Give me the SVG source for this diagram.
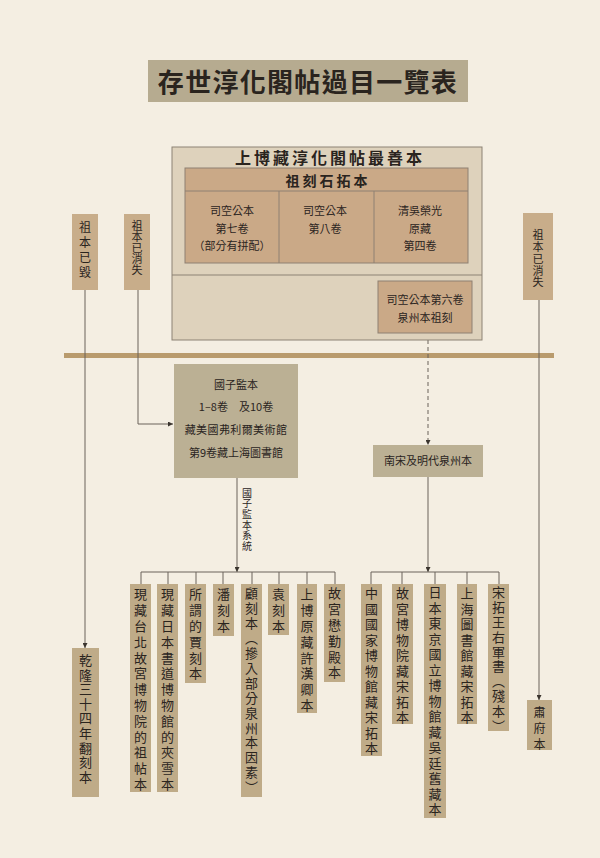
<svg xmlns="http://www.w3.org/2000/svg" width="600" height="858" viewBox="0 0 600 858">
<defs>
<style>
.t{font-family:"Noto Sans CJK TC","Noto Sans CJK SC",sans-serif;fill:#2a241e}
.v{writing-mode:vertical-rl;font-family:"Noto Sans CJK TC","Noto Sans CJK SC",sans-serif;fill:#2a241e}
.ln{stroke:#6a625a;stroke-width:1;fill:none}
.bot{fill:#bfab88}
.tag{fill:#c8ad8a}
.grey{fill:#bbb094}
.inner{fill:#caa987;stroke:#8e8072;stroke-width:1}
</style>
<marker id="ah" viewBox="0 0 6 6" refX="6" refY="3" markerWidth="5" markerHeight="5" orient="auto" markerUnits="userSpaceOnUse">
<path d="M0,0 L6,3 L0,6 Z" fill="#3a342e"/>
</marker>
</defs>
<rect width="600" height="858" fill="#f4eee2"/>

<g id="title">
<rect x="148" y="60" width="320" height="42" fill="#b6ab90"/>
<text class="t" x="308" y="92" font-size="26" font-weight="bold" letter-spacing="1.3" text-anchor="middle">存世淳化閣帖過目一覽表</text>
</g>

<g id="band">
<rect x="64" y="353" width="490" height="5" fill="#b99b6d"/>
</g>

<g id="connectors">
<line class="ln" x1="85" y1="290" x2="85" y2="648" marker-end="url(#ah)"/>
<polyline class="ln" points="138,290 138,424 173,424" marker-end="url(#ah)"/>
<line class="ln" x1="539" y1="300" x2="539" y2="700" marker-end="url(#ah)"/>
<line class="ln" x1="428" y1="333" x2="428" y2="445" stroke-dasharray="4,3" marker-end="url(#ah)"/>
<line class="ln" x1="237" y1="478" x2="237" y2="572" marker-end="url(#ah)"/>
<line class="ln" x1="428" y1="477" x2="428" y2="572" marker-end="url(#ah)"/>
<path class="ln" d="M141,584 V572 H335 V584 M168,572 V584 M196,572 V584 M223,572 V584 M252,572 V584 M279,572 V584 M307,572 V584"/>
<path class="ln" d="M371,584 V572 H499 V584 M402,572 V584 M435,572 V584 M467,572 V584"/>
</g>

<g id="main">
<rect x="172" y="147" width="310" height="193" fill="#ded2bc" stroke="#8c8274" stroke-width="1"/>
<line x1="172" y1="275" x2="482" y2="275" stroke="#8c8274" stroke-width="1"/>
<text class="t" x="330" y="164" font-size="16" font-weight="bold" letter-spacing="3" text-anchor="middle">上博藏淳化閣帖最善本</text>
</g>

<g id="zuke">
<rect class="inner" x="185" y="168" width="283" height="95"/>
<line x1="185" y1="191" x2="468" y2="191" stroke="#8e8072"/>
<line x1="279" y1="191" x2="279" y2="263" stroke="#8e8072"/>
<line x1="374" y1="191" x2="374" y2="263" stroke="#8e8072"/>
<text class="t" x="328" y="186" font-size="14" font-weight="bold" letter-spacing="3" text-anchor="middle">祖刻石拓本</text>
<text class="t" font-size="11" text-anchor="middle"><tspan x="232" y="215">司空公本</tspan><tspan x="232" y="233">第七卷</tspan><tspan x="232" y="250">（部分有拼配）</tspan></text>
<text class="t" font-size="11" text-anchor="middle"><tspan x="325" y="215">司空公本</tspan><tspan x="325" y="233">第八卷</tspan></text>
<text class="t" font-size="11" text-anchor="middle"><tspan x="420" y="215">清吳榮光</tspan><tspan x="420" y="233">原藏</tspan><tspan x="420" y="250">第四卷</tspan></text>
</g>

<g id="quanzhou-zu">
<rect class="inner" x="378" y="281" width="94" height="52"/>
<text class="t" font-size="11" text-anchor="middle"><tspan x="425" y="304">司空公本第六卷</tspan><tspan x="425" y="322">泉州本祖刻</tspan></text>
</g>

<g id="lost1">
<rect class="tag" x="72" y="214" width="26" height="76"/>
<text class="v" x="85" y="221" font-size="12" letter-spacing="3">祖本已毀</text>
</g>
<g id="lost2">
<rect class="tag" x="124" y="214" width="26" height="76"/>
<text class="v" x="137" y="220.5" font-size="11" letter-spacing="0">祖本已消失</text>
</g>
<g id="lost3">
<rect class="tag" x="523" y="213" width="30" height="87"/>
<text class="v" x="538" y="229.5" font-size="11" letter-spacing="0.8">祖本已消失</text>
</g>

<g id="guozijian">
<rect class="grey" x="174" y="364" width="124" height="114"/>
<text class="t" font-size="11" text-anchor="middle"><tspan x="236" y="389">國子監本</tspan><tspan x="236" y="411">1–8卷　及10卷</tspan><tspan x="236" y="434" letter-spacing="0.4">藏美國弗利爾美術館</tspan><tspan x="236" y="457">第9卷藏上海圖書館</tspan></text>
<text class="v" x="247" y="488" font-size="10" letter-spacing="0.6">國子監本系統</text>
</g>

<g id="nansong">
<rect class="grey" x="373" y="445" width="110" height="32"/>
<text class="t" x="428" y="465" font-size="11" text-anchor="middle">南宋及明代泉州本</text>
</g>

<g id="qianlong">
<rect class="bot" x="72" y="648" width="27" height="149"/>
<text class="v" x="85.5" y="653.5" font-size="13" letter-spacing="1.6">乾隆三十四年翻刻本</text>
</g>
<g id="sufu">
<rect class="bot" x="527" y="700" width="25" height="50"/>
<text class="v" x="539.5" y="706" font-size="12" letter-spacing="4">肅府本</text>
</g>

<g id="b1"><rect class="bot" x="130" y="584" width="21" height="208"/><text class="v" x="140.5" y="588" font-size="13" letter-spacing="2.8">現藏台北故宮博物院的祖帖本</text></g>
<g id="b2"><rect class="bot" x="157" y="584" width="21" height="208"/><text class="v" x="167.5" y="588" font-size="13" letter-spacing="2.8">現藏日本書道博物館的夾雪本</text></g>
<g id="b3"><rect class="bot" x="185" y="584" width="21" height="99"/><text class="v" x="195.5" y="588" font-size="13" letter-spacing="2.8">所謂的賈刻本</text></g>
<g id="b4"><rect class="bot" x="213" y="584" width="21" height="52"/><text class="v" x="223.5" y="588" font-size="13" letter-spacing="2.8">潘刻本</text></g>
<g id="b5"><rect class="bot" x="241" y="584" width="21" height="213"/><text class="v" x="251.5" y="587" font-size="13" letter-spacing="1.9">顧刻本（摻入部分泉州本因素）</text></g>
<g id="b6"><rect class="bot" x="268" y="584" width="21" height="51"/><text class="v" x="278.5" y="588" font-size="13" letter-spacing="2.8">袁刻本</text></g>
<g id="b7"><rect class="bot" x="297" y="584" width="20" height="129"/><text class="v" x="307" y="588" font-size="13" letter-spacing="2.8">上博原藏許漢卿本</text></g>
<g id="b8"><rect class="bot" x="324" y="584" width="21" height="98"/><text class="v" x="334.5" y="587" font-size="13" letter-spacing="2.8">故宮懋勤殿本</text></g>

<g id="r1"><rect class="bot" x="361" y="584" width="21" height="172"/><text class="v" x="371.5" y="587" font-size="13" letter-spacing="2.5">中國國家博物館藏宋拓本</text></g>
<g id="r2"><rect class="bot" x="392" y="584" width="21" height="140"/><text class="v" x="402.5" y="587" font-size="13" letter-spacing="2.5">故宮博物院藏宋拓本</text></g>
<g id="r3"><rect class="bot" x="424" y="584" width="22" height="234"/><text class="v" x="435" y="586" font-size="13" letter-spacing="2.5">日本東京國立博物館藏吳廷舊藏本</text></g>
<g id="r4"><rect class="bot" x="457" y="584" width="20" height="140"/><text class="v" x="467" y="587" font-size="13" letter-spacing="2.5">上海圖書館藏宋拓本</text></g>
<g id="r5"><rect class="bot" x="488" y="584" width="21" height="147"/><text class="v" x="498.5" y="586" font-size="13" letter-spacing="1.8">宋拓王右軍書（殘本）</text></g>
</svg>
